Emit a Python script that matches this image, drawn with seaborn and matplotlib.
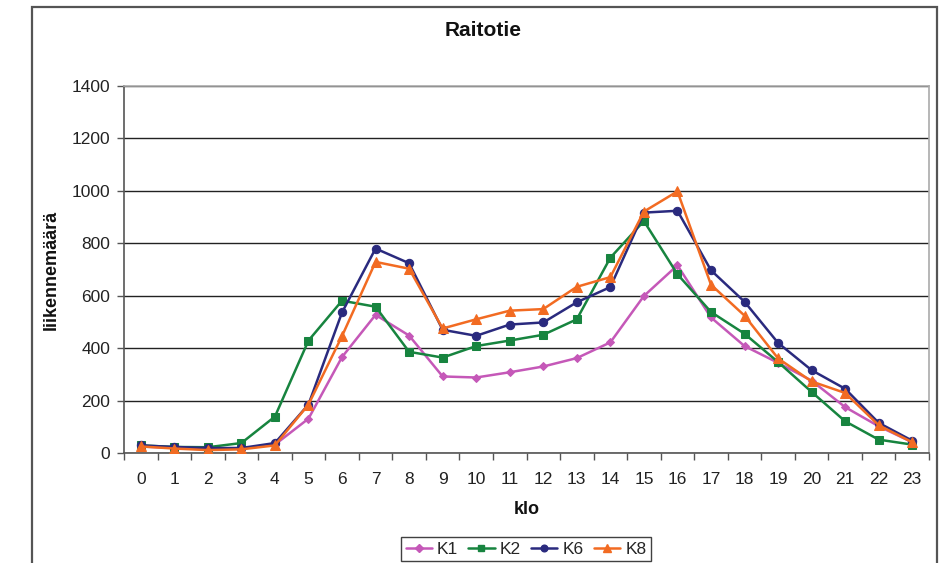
import numpy as np
import pandas as pd
import matplotlib
matplotlib.use("Agg")
import matplotlib.pyplot as plt
from matplotlib.patches import Rectangle
from matplotlib.lines import Line2D
import seaborn as sns

# Hourly traffic counts (liikennemäärä) at four counting points
hours = list(range(24))
k1 = [25, 19, 14, 17, 32, 131, 366, 527, 448, 292, 288, 308, 330, 362, 422, 599,
      716, 517, 408, 344, 276, 175, 102, 41]
k2 = [29, 23, 22, 38, 139, 429, 581, 558, 386, 364, 408, 429, 451, 510, 745, 885,
      682, 538, 455, 347, 233, 121, 51, 32]
k6 = [29, 23, 19, 19, 38, 185, 536, 780, 724, 470, 447, 490, 498, 575, 633, 917,
      924, 697, 577, 420, 316, 245, 115, 47]
k8 = [25, 17, 11, 14, 29, 185, 446, 729, 703, 475, 510, 543, 549, 634, 671, 921,
      998, 642, 524, 361, 273, 229, 106, 41]
series_names = ["K1", "K2", "K6", "K8"]
y_ticks = [0, 200, 400, 600, 800, 1000, 1200, 1400]

colors = {"K1": "#C558B8", "K2": "#17843F", "K6": "#2A2A7E", "K8": "#F26B22"}
markers = {"K1": "D", "K2": "s", "K6": "o", "K8": "^"}
msizes = {"K1": 4.5, "K2": 6, "K6": 6, "K8": 6.5}

df = pd.DataFrame({"klo": hours, "K1": k1, "K2": k2, "K6": k6, "K8": k8})
long = df.melt(id_vars="klo", var_name="piste", value_name="liikennemäärä")

sns.set_theme(style="white")
plt.rcParams["font.family"] = ["Liberation Sans", "DejaVu Sans"]

fig = plt.figure(figsize=(9.41, 5.63), dpi=100)
ax = fig.add_axes([124 / 941, 1 - 453 / 563, 805 / 941, 367 / 563])

# Chart frame around the whole figure area
fig.patches.append(Rectangle((32 / 941, -0.1), 905 / 941, 1.1 - 7 / 563,
                             transform=fig.transFigure, fill=False,
                             edgecolor="#555555", linewidth=1.6, zorder=0))

for name in series_names:
    sub = long[long["piste"] == name]
    sns.lineplot(data=sub, x="klo", y="liikennemäärä", ax=ax,
                 color=colors[name], marker=markers[name],
                 markersize=msizes[name], markeredgecolor=colors[name],
                 linewidth=1.8, legend=False, zorder=3)

ax.set_xlim(-0.5, 23.5)
ax.set_ylim(0, 1400)
ax.set_xticks(hours)
ax.set_xticklabels([str(h) for h in hours])
ax.set_xticks(np.arange(-0.5, 24, 1), minor=True)
ax.set_yticks(y_ticks)
ax.set_yticklabels([str(v) for v in y_ticks])

ax.tick_params(axis="x", which="major", length=0, pad=14, labelsize=12.5,
               labelcolor="#222222")
ax.tick_params(axis="x", which="minor", length=5, width=1, color="#555555",
               direction="out", bottom=True)
ax.tick_params(axis="y", which="major", length=5, width=1, color="#555555",
               direction="out", left=True, pad=5, labelsize=12.5,
               labelcolor="#222222")

ax.yaxis.grid(True, color="#222222", linewidth=1.0)
ax.xaxis.grid(False)
ax.set_axisbelow(True)

for side in ["left", "bottom"]:
    ax.spines[side].set_color("#555555")
    ax.spines[side].set_linewidth(1.2)
for side in ["top", "right"]:
    ax.spines[side].set_visible(True)
    ax.spines[side].set_color("#AAAAAA")
    ax.spines[side].set_linewidth(1.2)

ax.set_ylabel("liikennemäärä", fontsize=13, fontweight="bold", color="#111111")
ax.yaxis.label.set_va("center")
ax.yaxis.set_label_coords(-0.0907, 0.5)
ax.set_xlabel("klo", fontsize=13, fontweight="bold", color="#111111")
ax.xaxis.label.set_va("center")
ax.xaxis.set_label_coords(0.5, -0.155)

fig.text(483 / 941, 1 - 30 / 563, "Raitotie", ha="center", va="center",
         fontsize=15, fontweight="bold", color="#111111")

handles = [Line2D([0], [0], color=colors[n], marker=markers[n],
                  markersize=msizes[n] * 0.8, markeredgecolor=colors[n],
                  linewidth=1.8) for n in series_names]
leg = fig.legend(handles, series_names, loc="center",
                 bbox_to_anchor=(526 / 941, 1 - 549 / 563), ncol=4,
                 fontsize=12.5, frameon=True, fancybox=False,
                 edgecolor="#111111", handlelength=1.5, handletextpad=0.3,
                 columnspacing=0.6, borderpad=0.25, borderaxespad=0)
leg.get_frame().set_linewidth(1.0)

fig.savefig("out.png", dpi=100, facecolor="white")
